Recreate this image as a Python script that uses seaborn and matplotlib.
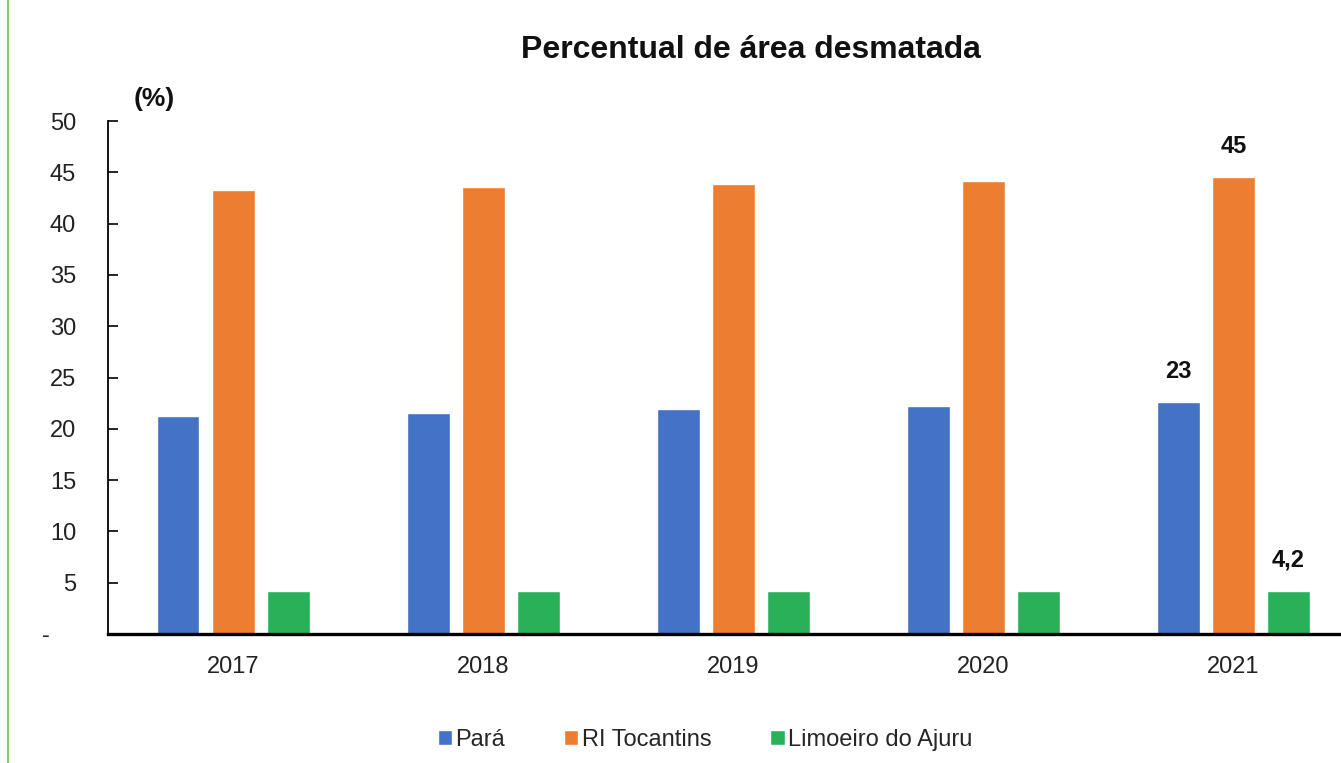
import pandas as pd
import matplotlib.pyplot as plt
import seaborn as sns
from matplotlib.lines import Line2D

# --- dados ---
anos = ["2017", "2018", "2019", "2020", "2021"]
series = ["Pará", "RI Tocantins", "Limoeiro do Ajuru"]
para = [21.2, 21.5, 21.9, 22.2, 22.6]
ri_tocantins = [43.3, 43.6, 43.9, 44.2, 44.5]
limoeiro = [4.2, 4.2, 4.2, 4.2, 4.2]
rotulos_2021 = ["23", "45", "4,2"]
yticks = [0, 5, 10, 15, 20, 25, 30, 35, 40, 45, 50]
ytick_labels = ["-    ", "5", "10", "15", "20", "25", "30", "35", "40", "45", "50"]
cores = ["#4472C4", "#ED7D31", "#2BB05A"]

df = pd.DataFrame({
    "ano": anos * 3,
    "serie": [s for s in series for _ in anos],
    "valor": para + ri_tocantins + limoeiro,
})

sns.set_style("white")
plt.rcParams["font.family"] = ["Liberation Sans", "DejaVu Sans"]

fig = plt.figure(figsize=(13.41, 7.63), dpi=100)
ax = fig.add_axes([108 / 1341, 129 / 763, 1 - 108 / 1341, (634 - 121) / 763])

sns.barplot(data=df, x="ano", y="valor", hue="serie", palette=cores,
            width=0.66, gap=0.22, saturation=1, ax=ax)

handles, labels = ax.get_legend_handles_labels()
ax.get_legend().remove()

# rótulos só em 2021
for cont, txt in zip(ax.containers, rotulos_2021):
    labs = [""] * (len(anos) - 1) + [txt]
    ax.bar_label(cont, labels=labs, padding=14, fontsize=17, fontweight="bold",
                 color="#111111")

ax.set_ylim(0, 50)
ax.set_xlim(-0.5, 4.43)
ax.set_yticks(yticks)
ax.set_yticklabels(ytick_labels)
ax.set_xlabel("")
ax.set_ylabel("")
ax.tick_params(axis="y", direction="in", length=7, width=1.2, labelsize=17,
               pad=23, left=True, colors="black")
ax.tick_params(axis="x", length=0, labelsize=17, pad=16)
for t in ax.get_yticklabels() + ax.get_xticklabels():
    t.set_color("#222222")

for s in ["top", "right"]:
    ax.spines[s].set_visible(False)
ax.spines["left"].set_linewidth(1.3)
ax.spines["left"].set_color("black")
ax.spines["bottom"].set_linewidth(2.4)
ax.spines["bottom"].set_color("black")

fig.text(751 / 1341, 1 - 50 / 763, "Percentual de área desmatada",
         ha="center", va="center", fontsize=23, fontweight="bold", color="#111111")
fig.text(154 / 1341, 1 - 99 / 763, "(%)", ha="center", va="center",
         fontsize=19, fontweight="bold", color="#111111")

fig.legend(handles, labels, loc="center", bbox_to_anchor=(705 / 1341, 1 - 740 / 763),
           ncol=3, frameon=False, fontsize=17, handlelength=0.6, handleheight=0.6,
           handletextpad=0.15, columnspacing=2.5)

# linha verde à esquerda
fig.add_artist(Line2D([8 / 1341, 8 / 1341], [0, 1], color="#6CC24A", linewidth=1.2))

fig.savefig("out.png", dpi=100)
